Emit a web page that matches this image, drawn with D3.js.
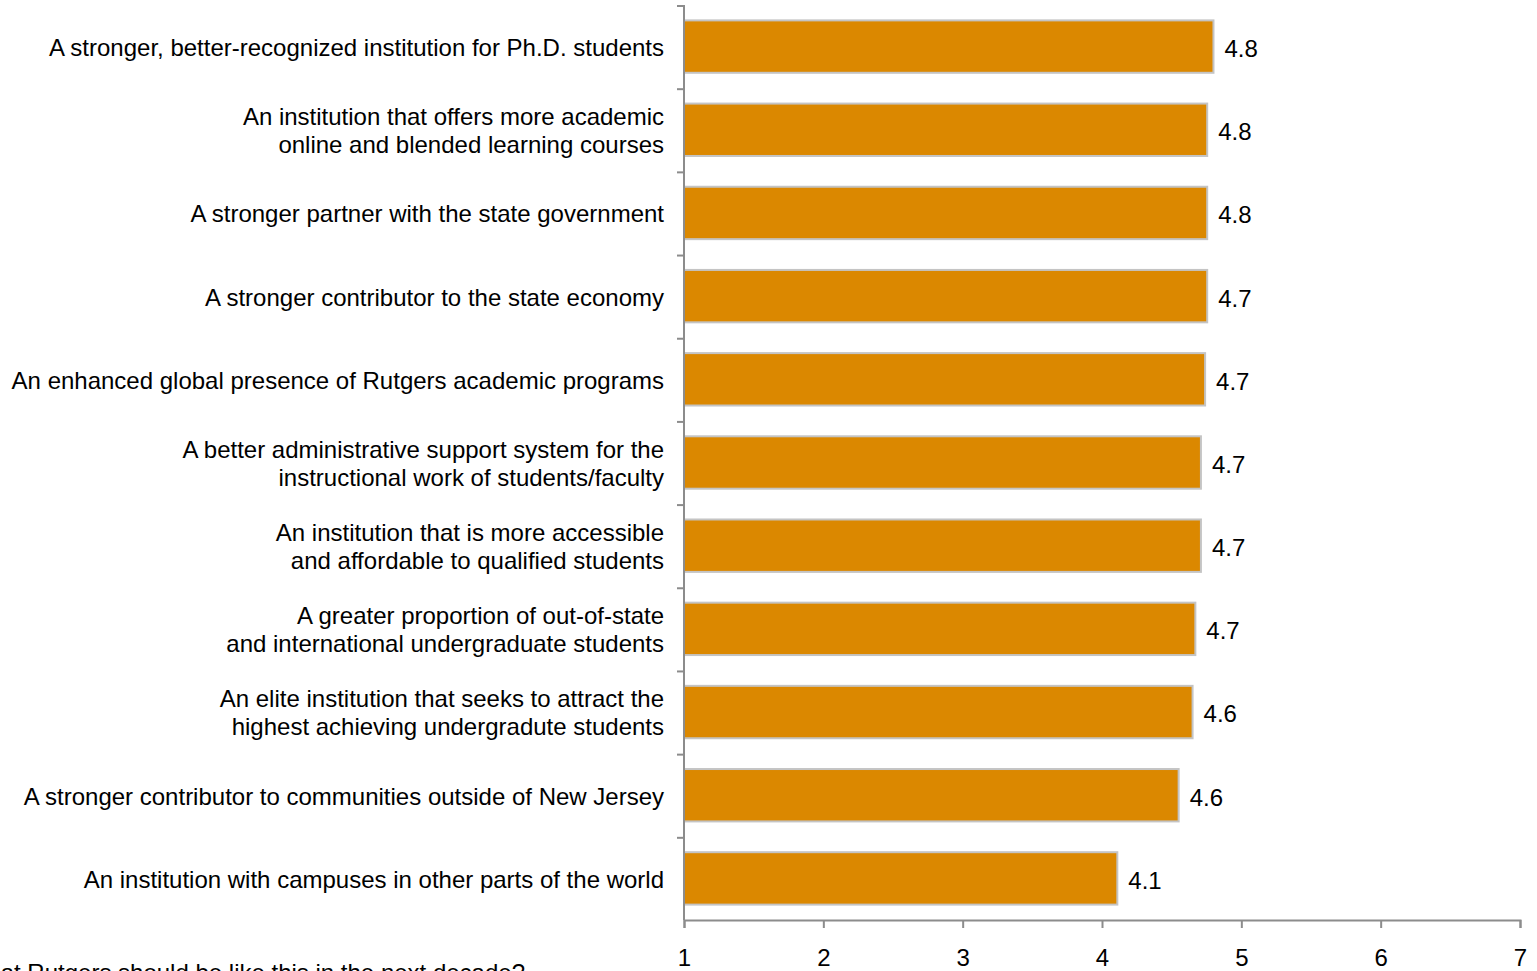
<!DOCTYPE html>
<html>
<head>
<meta charset="utf-8">
<script src="https://cdn.jsdelivr.net/npm/d3@7"></script>
<style>
  html, body { margin: 0; padding: 0; background: #fff; overflow: hidden; }
  text { font-family: "Liberation Sans", Arial, sans-serif; fill: #000; }
</style>
</head>
<body>
<svg id="chart" width="1537" height="971"></svg>
<script>
const categories = [
  ["A stronger, better-recognized institution for Ph.D. students"],
  ["An institution that offers more academic", "online and blended learning courses"],
  ["A stronger partner with the state government"],
  ["A stronger contributor to the state economy"],
  ["An enhanced global presence of Rutgers academic programs"],
  ["A better administrative support system for the", "instructional work of students/faculty"],
  ["An institution that is more accessible", "and affordable to qualified students"],
  ["A greater proportion of out-of-state", "and international undergraduate students"],
  ["An elite institution that seeks to attract the", "highest achieving undergradute students"],
  ["A stronger contributor to communities outside of New Jersey"],
  ["An institution with campuses in other parts of the world"]
];
const values = [4.80, 4.755, 4.755, 4.755, 4.74, 4.71, 4.71, 4.67, 4.65, 4.55, 4.11];
const valueLabels = ["4.8", "4.8", "4.8", "4.7", "4.7", "4.7", "4.7", "4.7", "4.6", "4.6", "4.1"];
const xTicks = [1, 2, 3, 4, 5, 6, 7];
const footnote = "How important is it that Rutgers should be like this in the next decade?";

(function () {
const svg = d3.select("#chart");
const mLeft = 684, mRight = 1520, mTop = 5, mBottom = 920;
const fs = 24;

const x = d3.scaleLinear().domain([1, 7]).range([mLeft, mRight]);
const y = d3.scaleBand().domain(d3.range(categories.length)).range([mTop, mBottom]).paddingInner(0.37).paddingOuter(0.185);
const yTicks = d3.scaleBand().domain(d3.range(categories.length)).range([mTop, mBottom]);

const axisColor = "#8c8c8c";

// bars
svg.append("g").selectAll("rect").data(values).join("rect")
  .attr("x", x(1))
  .attr("y", (d, i) => y(i))
  .attr("width", d => x(d) - x(1))
  .attr("height", y.bandwidth())
  .attr("fill", "#DB8800")
  .attr("stroke", "#c4c4c4")
  .attr("stroke-width", 2);

// value labels
svg.append("g").selectAll("text").data(values).join("text")
  .attr("x", d => x(d) + 11)
  .attr("y", (d, i) => y(i) + y.bandwidth() / 2 + 2)
  .attr("dy", "0.35em")
  .attr("font-size", fs)
  .text((d, i) => valueLabels[i]);

// y axis line and ticks
const yAxisG = svg.append("g");
yAxisG.append("line").attr("x1", mLeft).attr("x2", mLeft).attr("y1", mTop).attr("y2", mBottom)
  .attr("stroke", axisColor).attr("stroke-width", 2);
yAxisG.selectAll("line.t").data(d3.range(categories.length)).join("line").attr("class", "t")
  .attr("x1", mLeft - 7).attr("x2", mLeft)
  .attr("y1", i => yTicks(i) + 1).attr("y2", i => yTicks(i) + 1)
  .attr("stroke", axisColor).attr("stroke-width", 2);

// category labels
const lab = svg.append("g").selectAll("text").data(categories).join("text")
  .attr("text-anchor", "end")
  .attr("font-size", fs)
  .attr("x", mLeft - 20)
  .attr("y", (d, i) => y(i) + y.bandwidth() / 2 + 1);
lab.each(function(d) {
  const t = d3.select(this);
  const lh = 28;
  const start = -(d.length - 1) * lh / 2;
  d.forEach((line, k) => {
    t.append("tspan").attr("x", mLeft - 20).attr("dy", k === 0 ? (start / fs + 0.35) + "em" : lh + "px").text(line);
  });
});

// x axis
const xAxis = d3.axisBottom(x).tickValues(xTicks).tickSize(8).tickPadding(21).tickFormat(d3.format("d"));
const xg = svg.append("g").attr("transform", `translate(0,${mBottom})`).call(xAxis);
xg.select(".domain").attr("stroke", axisColor).attr("stroke-width", 2);
xg.selectAll(".tick line").attr("stroke", axisColor).attr("stroke-width", 2);
xg.selectAll(".tick text").attr("font-size", fs).attr("font-family", "Liberation Sans, Arial, sans-serif").attr("fill", "#000");

// footnote (partly below the window bottom, as in the reference)
svg.append("text").attr("x", 525).attr("y", 981).attr("text-anchor", "end").attr("font-size", fs).text(footnote);
})();
</script>
</body>
</html>
